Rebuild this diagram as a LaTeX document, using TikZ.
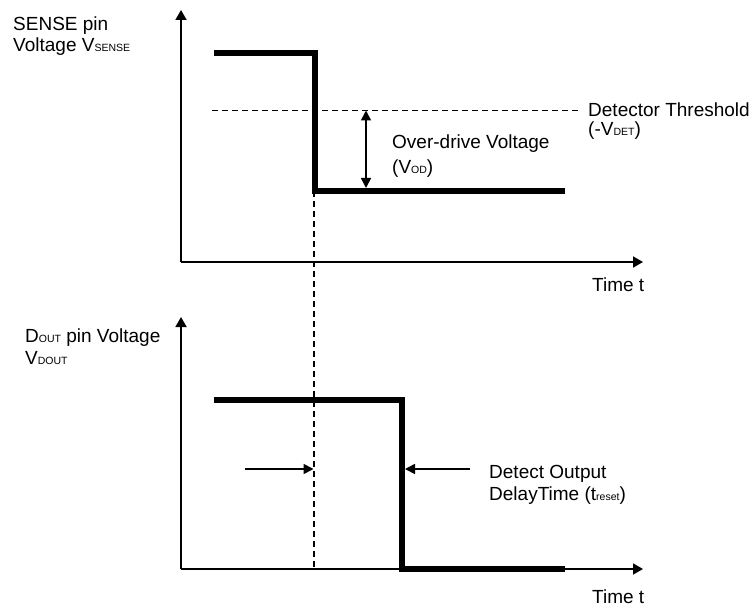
\documentclass[tikz,border=0pt]{standalone}
\usepackage{fontspec}
\setmainfont{Liberation Sans}
\usetikzlibrary{arrows.meta}
\newcommand\smallsub[1]{{\fontsize{10.5}{10.5}\selectfont #1}}
\tikzset{
  lbl/.style={anchor=base west, inner sep=0pt, align=left, font=\fontsize{19}{21.7}\selectfont},
  axis/.style={line width=1.8pt, -{Triangle[length=10pt,width=11pt]}},
  sig/.style={line width=6pt, line join=miter},
  thr/.style={line width=1.2pt, dash pattern=on 6pt off 4pt},
  dim/.style={line width=1.6pt, {Triangle[length=10pt,width=10pt]}-{Triangle[length=10pt,width=10pt]}},
  ptr/.style={line width=1.6pt, -{Triangle[length=10pt,width=10pt]}}
}
\begin{document}
\begin{tikzpicture}[x=1pt,y=-1pt]
\useasboundingbox (0,0) rectangle (753,607);
% top axes
\coordinate (o1) at (181,262);
\coordinate (y1) at (181,10);
\coordinate (x1) at (643,262);
\draw[axis] (o1) -- (y1);
\draw[axis] (o1) -- (x1);
% bottom axes
\coordinate (o2) at (181,569);
\coordinate (y2) at (181,317);
\coordinate (x2) at (643,569);
\draw[axis] (o2) -- (y2);
\draw[axis] (o2) -- (x2);
% top signal
\coordinate (s1) at (214,53);
\coordinate (s2) at (315,53);
\coordinate (s3) at (315,191);
\coordinate (s4) at (565,191);
\draw[sig] (s1) -- (s2) -- (s3) -- (s4);
% threshold
\coordinate (t1) at (212,110.5);
\coordinate (t2) at (581,110.5);
\draw[thr] (t1) -- (t2);
% over-drive dim arrow
\coordinate (d1) at (366,110.5);
\coordinate (d2) at (366,188);
\draw[dim] (d1) -- (d2);
% vertical dashed guide
\coordinate (g1) at (314,191);
\coordinate (g2) at (314,570);
\draw[thr] (g1) -- (g2);
% bottom signal
\coordinate (b1) at (214,400);
\coordinate (b2) at (402,400);
\coordinate (b3) at (402,569);
\coordinate (b4) at (565,569);
\draw[sig] (b1) -- (b2) -- (b3) -- (b4);
% delay arrows
\coordinate (la) at (245,469);
\coordinate (lb) at (313.5,469);
\coordinate (ra) at (470,469);
\coordinate (rb) at (405,469);
\draw[ptr] (la) -- (lb);
\draw[ptr] (ra) -- (rb);
% labels (anchored at the baseline of the last line)
\node[lbl] (lsense) at (13,52) {SENSE pin\\Voltage V\smallsub{SENSE}};
\node[lbl] (ldet) at (588,136) {Detector Threshold\\[-2.7pt](-V\smallsub{DET})};
\node[lbl] (lod) at (392,174) {Over-drive Voltage\\[3.3pt](V\smallsub{OD})};
\node[lbl] (ltime1) at (592,291.6) {Time t};
\node[lbl] (ldout) at (25,364) {D\smallsub{OUT} pin Voltage\\V\smallsub{DOUT}};
\node[lbl] (ldelay) at (489,500) {Detect Output\\DelayTime (t\smallsub{reset})};
\node[lbl] (ltime2) at (592,603.5) {Time t};
\end{tikzpicture}
\end{document}
